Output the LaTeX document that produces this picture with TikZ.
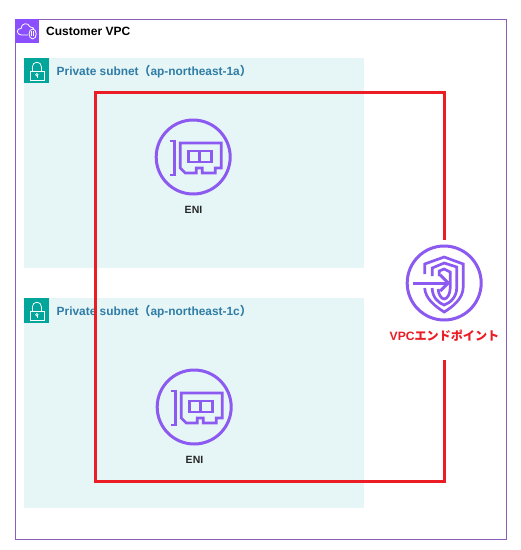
\documentclass[tikz,border=0pt]{standalone}
\usepackage{fontspec}
\setmainfont{Liberation Sans}
\newfontfamily\cjkfont{Noto Sans CJK JP}
\definecolor{vpcframe}{HTML}{8A5FB8}
\definecolor{vpcfill}{HTML}{8C4FFF}
\definecolor{subfill}{HTML}{E6F6F7}
\definecolor{subicon}{HTML}{01A59A}
\definecolor{subtext}{HTML}{2F7CA6}
\definecolor{iconpurple}{HTML}{8C5AF0}
\definecolor{redline}{HTML}{EC1C24}
\tikzset{
  vpcbox/.style={draw=vpcframe,line width=1pt,fill=white},
  subnetbox/.style={draw=none,fill=subfill},
  badge/.style={draw=none,inner sep=0pt,minimum size=#1},
  subnetlabel/.style={anchor=west,inner sep=0pt,text=subtext,font=\fontsize{11.9}{13}\selectfont\bfseries},
  iconlabel/.style={anchor=center,inner sep=0pt,text=black!85,font=\fontsize{10.5}{12}\selectfont\bfseries},
  iconline/.style={draw=iconpurple,line width=3pt,line join=miter},
  iconthin/.style={draw=iconpurple,line width=2.7pt},
  redframe/.style={draw=redline,line width=3pt,line cap=butt,line join=miter},
  eni/.pic={
    \draw[iconline] (0,0) circle (37);
    \draw[iconthin] (-23,-16) -- (-19,-16) -- (-19,18) -- (-23,18);
    \draw[iconthin] (-13,-14) -- (28,-14) -- (28,11) -- (22,11) -- (22,16) -- (9,16) -- (9,11) -- (3,11) -- (3,16) -- (-8,16) -- (-13,11) -- cycle;
    \draw[iconthin] (-5,-6) rectangle (18,5);
    \draw[iconthin] (6,-6) -- (6,5);
  },
  lockicon/.pic={
    \draw[white,line width=.8pt] (-7,0.5) rectangle (7,9.5);
    \draw[white,line width=.8pt] (-4.5,0.5) -- (-4.5,-4) arc[start angle=180,end angle=360,radius=4.5] -- (4.5,0.5);
    \draw[white,line width=.7pt] (0,4) circle (1.3);
    \draw[white,line width=.7pt] (0,5.3) -- (0,7.5);
  },
  cloudicon/.pic={
    \draw[white,line width=.8pt] (1,4) -- (-6,4) .. controls (-11,4) and (-11,-3) .. (-6,-2.5) .. controls (-6,-8) and (1,-9) .. (3,-4) .. controls (5,-4) and (7,-3) .. (7,-1.5);
    \draw[white,line width=.8pt] (5.5,3) ellipse (3.6 and 5);
    \draw[white,line width=.6pt] (4.5,0.5) -- (4.5,5.5) (6.5,0.5) -- (6.5,5.5);
  }
}
\begin{document}
\begin{tikzpicture}[x=1pt,y=-1pt]
\useasboundingbox (0,0) rectangle (521,550);
\fill[white] (0,0) rectangle (521,550);
\node[vpcbox,anchor=north west,inner sep=0pt,minimum width=491pt,minimum height=520.5pt] (vpc) at (14.7,18.5) {};
\node[badge=24.5pt,fill=vpcfill,anchor=north west] (vpcbadge) at (14.7,18.5) {};
\pic at (vpcbadge.center) {cloudicon};
\node[anchor=west,inner sep=0pt,font=\fontsize{12}{14}\selectfont\bfseries] (vpclabel) at (46,31.5) {Customer VPC};

\node[subnetbox,anchor=north west,inner sep=0pt,minimum width=339.5pt,minimum height=210pt] (suba) at (24.2,58) {};
\node[badge=25pt,fill=subicon,anchor=north west] (subabadge) at (24.2,58) {};
\pic at (subabadge.center) {lockicon};
\node[subnetlabel] (subalabel) at (56.5,71.5) {Private subnet{\cjkfont （}ap-northeast-1a{\cjkfont ）}};

\node[subnetbox,anchor=north west,inner sep=0pt,minimum width=339.5pt,minimum height=210pt] (subc) at (24.2,298) {};
\node[badge=25pt,fill=subicon,anchor=north west] (subcbadge) at (24.2,298) {};
\pic at (subcbadge.center) {lockicon};
\node[subnetlabel] (subclabel) at (56.5,311.5) {Private subnet{\cjkfont （}ap-northeast-1c{\cjkfont ）}};

\coordinate (enia) at (193.2,157);
\coordinate (enic) at (194.2,407);
\pic at (enia) {eni};
\pic at (enic) {eni};
\node[iconlabel] (enialabel) at (193.5,210) {ENI};
\node[iconlabel] (eniclabel) at (194.5,460) {ENI};

% VPC endpoint icon
\coordinate (ep) at (444.2,283);
\begin{scope}[shift={(ep)}]
  \draw[iconline] (0,0) circle (37);
  \draw[iconthin] (-19.5,-9) -- (-19.5,-19) -- (0,-26) -- (19,-19) -- (19,4) .. controls (19,16) and (8,24) .. (0,29) .. controls (-8,24) and (-19,16) .. (-19.5,5);
  \draw[iconthin] (-12,-7) -- (-12,-15) -- (0,-20) -- (12.5,-16) -- (12.5,5) .. controls (12.5,14) and (6,20) .. (0,22) .. controls (-6,20) and (-12,14) .. (-12,5);
  \draw[iconthin] (-5,-7) -- (-5,-12) -- (0,-14) -- (6,-11) -- (6,5) .. controls (6,11) and (3,16) .. (0,16) .. controls (-3,16) and (-6,11) .. (-6,6);
  \draw[iconline] (-31,0) -- (4,0);
  \draw[iconline] (-4,-8) -- (4,0) -- (-4,8);
\end{scope}
\node[anchor=center,inner sep=0pt,text=redline,font=\fontsize{12.1}{13}\selectfont\bfseries] (eplabel) at (444.5,335.5) {VPC{\cjkfont エンドポイント}};

\coordinate (redtop) at (444,240);
\coordinate (redbot) at (444,360);
\draw[redframe] (redtop) -- (444,92) -- (95,92) -- (95,481) -- (444,481) -- (redbot);
\end{tikzpicture}
\end{document}
